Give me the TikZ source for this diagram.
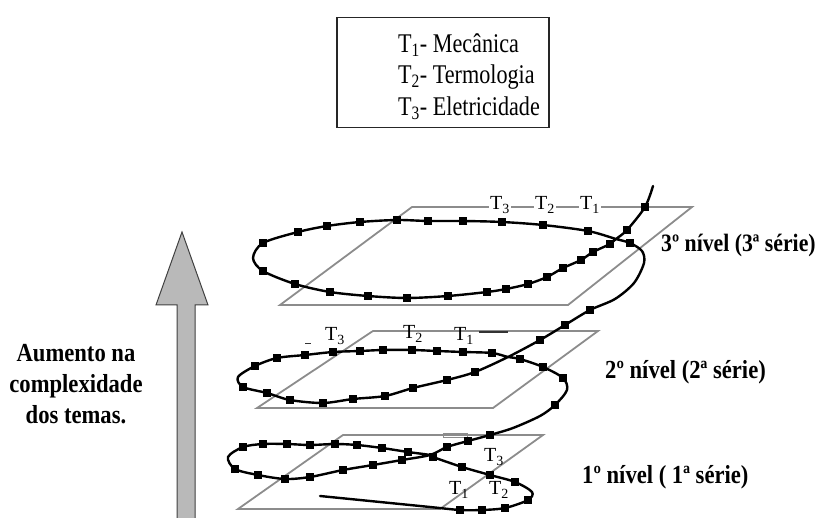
\documentclass[tikz,border=0pt]{standalone}
\usepackage{fontspec}
\setmainfont{Liberation Serif}[FakeStretch=0.82]
\newfontfamily\lvlfont{Liberation Serif}[FakeStretch=0.87]
\newfontfamily\tfont{Liberation Serif}
\definecolor{planegray}{RGB}{140,140,140}
\definecolor{arrowfill}{RGB}{185,185,185}
\tikzset{
  plane/.style={draw=planegray, line width=1.8pt, line join=miter},
  spiral/.style={draw=black, line width=2.4pt, line cap=round, line join=round},
  marker/.style={rectangle, fill=black, draw=none, minimum size=8.5pt, inner sep=0pt},
  tlabel/.style={font=\tfont\fontsize{20}{22}\selectfont, inner sep=1pt},
  lvl/.style={font=\lvlfont\bfseries\fontsize{26}{30}\selectfont, anchor=west, inner sep=0pt},
  legendtxt/.style={font=\fontsize{27}{31}\selectfont, anchor=west, inner sep=0pt},
}
\begin{document}
\begin{tikzpicture}[x=1pt, y=-1pt]
\useasboundingbox (0,0) rectangle (822,518);
\clip (0,0) rectangle (822,518);

% legend
\node[draw=black!85, line width=1.5pt, minimum width=212pt, minimum height=110pt,
      anchor=north west, inner sep=0pt] (legend) at (336,17) {};
\node[legendtxt] (leg1) at (398,45)  {T\textsubscript{1}- Mecânica};
\node[legendtxt] (leg2) at (398,77)  {T\textsubscript{2}- Termologia};
\node[legendtxt] (leg3) at (398,108) {T\textsubscript{3}- Eletricidade};

% rising arrow and its caption
\draw[fill=arrowfill, draw=black!75, line width=1pt]
  (182,232) -- (208,305) -- (195,305) -- (195,525) -- (177,525) -- (177,305) -- (156,305) -- cycle;
\node[font=\lvlfont\bfseries\fontsize{26}{31}\selectfont, align=center] (rise) at (76,384)
  {Aumento na\\complexidade\\dos temas.};

% the three level planes
\draw[plane] (412,207) -- (692,207) -- (568,305) -- (280,305) -- cycle;
\draw[plane] (373,331) -- (598,331) -- (493,408) -- (257,408) -- cycle;
\draw[plane] (343,435) -- (543,435) -- (440,509) -- (238,509) -- cycle;

% small marks on the planes
\draw[black!80, line width=1.2pt] (479,332) -- (508,332);
\draw[black!80, line width=1pt] (305,344) -- (311,344);
\draw[planegray, line width=0.8pt] (443,433) rectangle (467,437);

% topic labels
\node[tlabel, fill=white] (a3) at (500,205) {T\textsubscript{3}};
\node[tlabel, fill=white] (a2) at (545,205) {T\textsubscript{2}};
\node[tlabel, fill=white] (a1) at (590,205) {T\textsubscript{1}};
\node[tlabel] (b3) at (335,336) {T\textsubscript{3}};
\node[tlabel] (b2) at (413,334) {T\textsubscript{2}};
\node[tlabel] (b1) at (464,336) {T\textsubscript{1}};
\node[tlabel] (c3) at (494,457) {T\textsubscript{3}};
\node[tlabel] (c1) at (459,490) {T\textsubscript{1}};
\node[tlabel] (c2) at (499,490) {T\textsubscript{2}};

% level names
\node[lvl, font=\lvlfont\bfseries\fontsize{25}{30}\selectfont] (lvl3) at (661,245) {3º nível (3ª série)};
\node[lvl] (lvl2) at (605,372) {2º nível (2ª série)};
\node[lvl] (lvl1) at (582,477) {1º nível ( 1ª série)};

% the spiral
\draw[spiral] plot[smooth, tension=0.5] coordinates {
  (653,186) (645,207) (627,230) (616,239) (610,244) (593,252) (581,260) (563,268)
  (547,277) (528,284) (506,289) (487,292) (448,296) (407,298) (368,296) (330,292)
  (295,284) (263,271) (253,258) (263,243) (298,232) (327,226) (360,222) (397,220)
  (428,221) (463,221) (502,222) (543,225) (588,231) (616,239) (630,243) (642,251)
  (644,263) (634,283) (615,299) (590,310) (565,325) (540,340) (508,357) (475,372)
  (447,380) (413,388) (385,396) (353,399) (323,403) (290,400) (267,393) (243,387)
  (238,377) (255,366) (277,358) (305,355) (333,352) (360,351) (383,350) (412,350)
  (437,351) (463,352) (492,353) (508,357) (520,359) (543,367) (563,378) (567,390)
  (555,405) (540,416) (513,428) (490,435) (468,441) (447,447) (430,455) (402,460)
  (373,465) (343,470) (310,477) (285,479) (258,475) (235,469) (228,457) (243,447)
  (263,444) (287,444) (310,445) (335,444) (357,445) (382,448) (408,452) (430,455)
  (433,457) (462,467) (490,475) (515,482) (532,492) (528,500) (505,508) (482,510)
  (460,510) (430,507) (380,502) (320,496)};

% square marks along the spiral
\foreach \x/\y [count=\i] in {
  645/207, 627/230, 610/244, 593/252, 581/260, 563/268, 547/277, 528/284, 506/289,
  487/292, 448/296, 407/298, 368/296, 330/292, 295/284, 263/271, 263/243, 298/232,
  327/226, 360/222, 397/220, 428/221, 463/221, 502/222, 543/225, 588/231, 630/243,
  590/310, 565/325, 540/340, 475/372, 447/380, 413/388, 385/396, 353/399, 323/403,
  290/400, 267/393, 243/387, 255/366, 277/358, 305/355, 333/352, 360/351, 383/350,
  412/350, 437/351, 463/352, 492/353, 520/359, 543/367, 563/378, 555/405,
  490/435, 468/441, 447/447, 402/460, 373/465, 343/470, 310/477, 285/479, 258/475,
  235/469, 243/447, 263/444, 287/444, 310/445, 335/444, 357/445, 382/448, 408/452,
  433/457, 462/467, 490/475, 515/482, 528/500, 505/508, 482/510, 460/510}
  \node[marker] (m\i) at (\x,\y) {};
\end{tikzpicture}
\end{document}
